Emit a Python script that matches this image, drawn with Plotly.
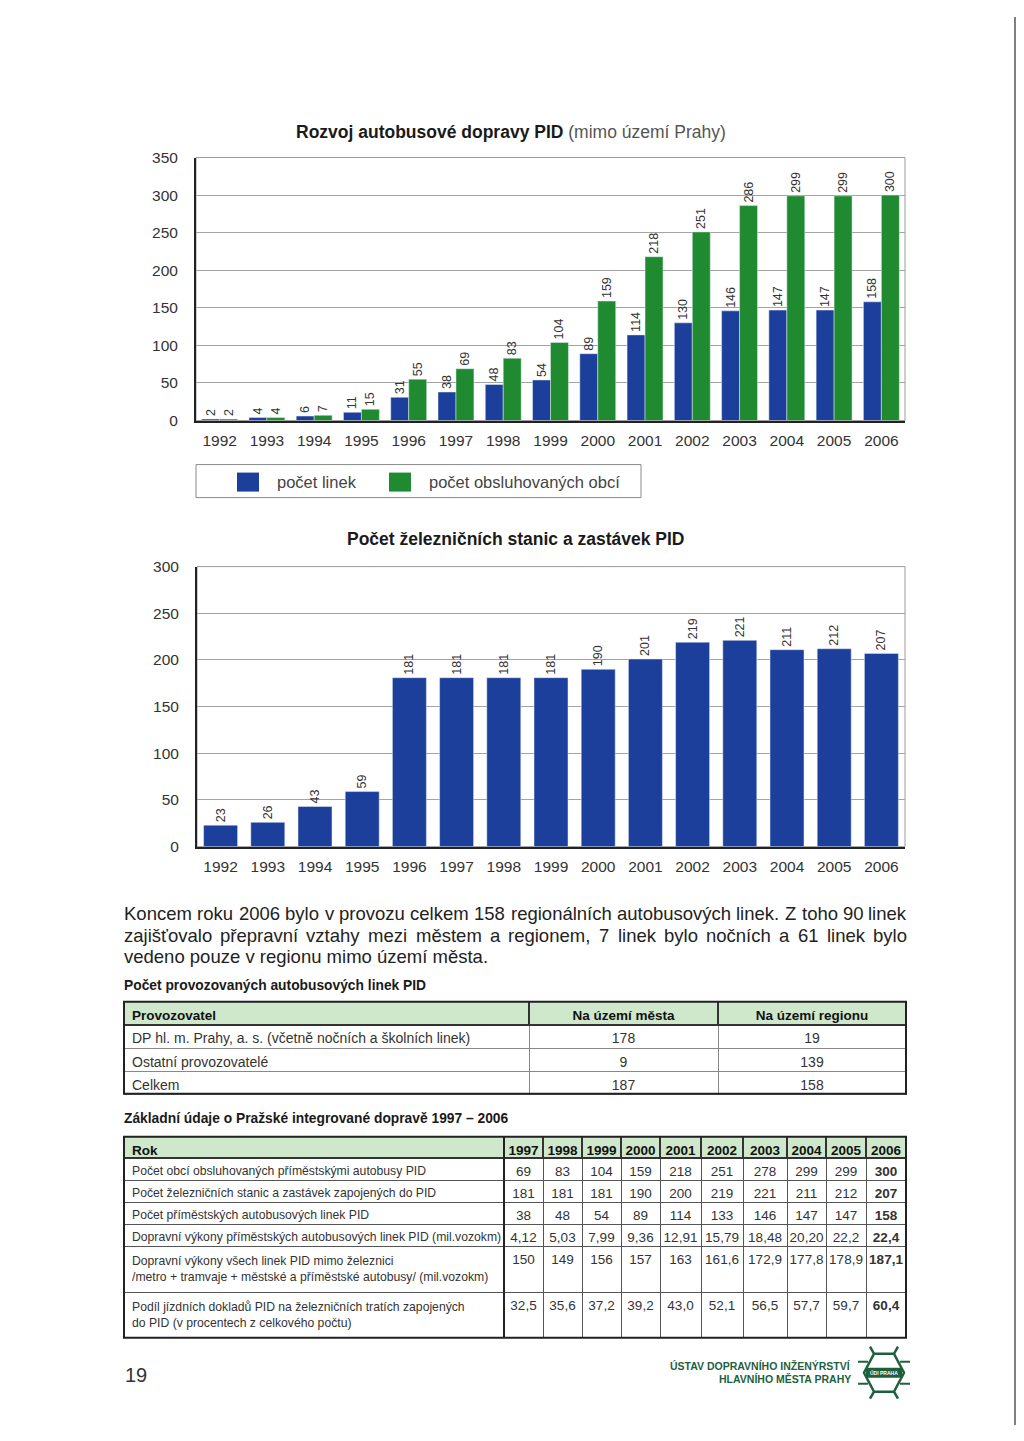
import plotly.graph_objects as go

# ---------------- data ----------------
years = ['1992', '1993', '1994', '1995', '1996', '1997', '1998', '1999',
         '2000', '2001', '2002', '2003', '2004', '2005', '2006']
bus_lines = [2, 4, 6, 11, 31, 38, 48, 54, 89, 114, 130, 146, 147, 147, 158]
served_municipalities = [2, 4, 7, 15, 55, 69, 83, 104, 159, 218, 251, 286, 299, 299, 300]
rail_stations = [23, 26, 43, 59, 181, 181, 181, 181, 190, 201, 219, 221, 211, 212, 207]

legend_names = ['počet linek', 'počet obsluhovaných obcí']
chart1_title_bold = 'Rozvoj autobusové dopravy PID'
chart1_title_rest = '(mimo území Prahy)'
chart2_title = 'Počet železničních stanic a zastávek PID'

paragraph_lines = [
    'Koncem roku 2006 bylo v provozu celkem 158 regionálních autobusových linek. Z toho 90 linek',
    'zajišťovalo přepravní vztahy mezi městem a regionem, 7 linek bylo nočních a 61 linek bylo',
    'vedeno pouze v regionu mimo území města.',
]

table1_title = 'Počet provozovaných autobusových linek PID'
table1_header = ['Provozovatel', 'Na území města', 'Na území regionu']
table1_operators = ['DP hl. m. Prahy, a. s. (včetně nočních a školních linek)',
                    'Ostatní provozovatelé', 'Celkem']
table1_city = ['178', '9', '187']
table1_region = ['19', '139', '158']

table2_title = 'Základní údaje o Pražské integrované dopravě 1997 – 2006'
table2_years = ['1997', '1998', '1999', '2000', '2001', '2002', '2003', '2004', '2005', '2006']
table2_rows = [
    'Počet obcí obsluhovaných příměstskými autobusy PID',
    'Počet železničních stanic a zastávek zapojených do PID',
    'Počet příměstských autobusových linek PID',
    'Dopravní výkony příměstských autobusových linek PID (mil.vozokm)',
    'Dopravní výkony všech linek PID mimo železnici<br>/metro + tramvaje + městské a příměstské autobusy/ (mil.vozokm)',
    'Podíl jízdních dokladů PID na železničních tratích zapojených<br>do PID (v procentech z celkového počtu)',
]
t2_municipalities = ['69', '83', '104', '159', '218', '251', '278', '299', '299', '300']
t2_stations = ['181', '181', '181', '190', '200', '219', '221', '211', '212', '207']
t2_bus_lines = ['38', '48', '54', '89', '114', '133', '146', '147', '147', '158']
t2_bus_perf = ['4,12', '5,03', '7,99', '9,36', '12,91', '15,79', '18,48', '20,20', '22,2', '22,4']
t2_all_perf = ['150', '149', '156', '157', '163', '161,6', '172,9', '177,8', '178,9', '187,1']
t2_ticket_share = ['32,5', '35,6', '37,2', '39,2', '43,0', '52,1', '56,5', '57,7', '59,7', '60,4']

page_number = '19'
institute_lines = ['ÚSTAV DOPRAVNÍHO INŽENÝRSTVÍ', 'HLAVNÍHO MĚSTA PRAHY']

# ---------------- styles / page geometry ----------------
OFF = 8                      # html body margin
W, H = 1024 - 2 * OFF, 1441 - 2 * OFF
Y0, SY = 16.5, 0.9879        # measured vertical placement of the figure on the page
BLUE = '#1b3f9b'
GREEN = '#1f8a2f'
DARK_GREEN = '#1e5f3e'
HEADER_FILL = '#cfe7cb'
SANS = 'Liberation Sans, Arial, Helvetica'


def px(x):
    return (x - OFF) / W


def py(y):
    return 1 - ((y - Y0) / SY) / H


def hh(h):
    return h / SY


def nb(s):
    return s.replace(' ', '\u00a0')


fig = go.Figure()

# ---------------- chart 1 ----------------
label_font = dict(family=SANS, size=12.5, color='#333')
fig.add_trace(go.Bar(
    x=years, y=bus_lines, name=legend_names[0], marker_color=BLUE,
    text=bus_lines, textposition='outside', textangle=-90,
    outsidetextfont=label_font, constraintext='none', cliponaxis=False,
    showlegend=False, xaxis='x', yaxis='y', hoverinfo='x+y'))
fig.add_trace(go.Bar(
    x=years, y=served_municipalities, name=legend_names[1], marker_color=GREEN,
    text=served_municipalities, textposition='outside', textangle=-90,
    outsidetextfont=label_font, constraintext='none', cliponaxis=False,
    showlegend=False, xaxis='x', yaxis='y', hoverinfo='x+y'))

# ---------------- chart 2 ----------------
fig.add_trace(go.Bar(
    x=years, y=rail_stations, name=chart2_title, marker_color=BLUE, width=0.72,
    text=rail_stations, textposition='outside', textangle=-90,
    outsidetextfont=label_font, constraintext='none', cliponaxis=False,
    showlegend=False, xaxis='x2', yaxis='y2', hoverinfo='x+y'))

axis_font = dict(family=SANS, size=15.5, color='#333')
common_x = dict(type='category', showline=True, linecolor='#222', linewidth=1.5,
                ticks='', tickfont=axis_font, showgrid=False, ticklabelstandoff=5,
                fixedrange=True)
common_y = dict(showline=True, linecolor='#222', linewidth=2, ticks='',
                tickfont=axis_font, showgrid=True, gridcolor='#a3a3a3', gridwidth=1,
                zeroline=False, ticklabelstandoff=13, dtick=50, fixedrange=True)

fig.update_layout(
    xaxis=dict(domain=[px(196), px(905)], anchor='y', **common_x),
    yaxis=dict(domain=[py(420), py(157)], anchor='x', range=[0, 350], **common_y),
    xaxis2=dict(domain=[px(197), px(905)], anchor='y2', **common_x),
    yaxis2=dict(domain=[py(846), py(566)], anchor='x2', range=[0, 300], **common_y),
)

# frames (top/right border of plot areas)
for xr, yr in (('x domain', 'y domain'), ('x2 domain', 'y2 domain')):
    fig.add_shape(type='rect', xref=xr, yref=yr, x0=0, x1=1, y0=0, y1=1,
                  line=dict(color='#9a9a9a', width=1), layer='below')

annotations = []

# titles
annotations.append(dict(
    x=px(511), y=py(131), xref='paper', yref='paper', showarrow=False,
    text=f'<b>{chart1_title_bold}</b> <span style="color:#555">{chart1_title_rest}</span>',
    font=dict(family=SANS, size=17.5, color='#1a1a1a'), xanchor='center', yanchor='middle'))
annotations.append(dict(
    x=px(516), y=py(538), xref='paper', yref='paper', showarrow=False,
    text=f'<b>{chart2_title}</b>',
    font=dict(family=SANS, size=17.5, color='#1a1a1a'), xanchor='center', yanchor='middle'))

# legend box (manual)
fig.add_shape(type='rect', xref='paper', yref='paper', x0=px(196), x1=px(641),
              y0=py(497), y1=py(464), line=dict(color='#8a8a8a', width=1))
legend_items = [(237, 259, 277, BLUE, legend_names[0]), (389, 411, 429, GREEN, legend_names[1])]
for x0, x1, tx, col, name in legend_items:
    fig.add_shape(type='rect', xref='paper', yref='paper', x0=px(x0), x1=px(x1),
                  y0=py(491), y1=py(472), line=dict(width=0), fillcolor=col)
    annotations.append(dict(x=px(tx), y=py(481), xref='paper', yref='paper', showarrow=False,
                            text=name, xanchor='left', yanchor='middle',
                            font=dict(family=SANS, size=16.5, color='#444'),
                            borderpad=0, borderwidth=0))

# ---------------- paragraph (justified) ----------------
CW = {' ': 278, ',': 278, '.': 278, '-': 333, '(': 333, ')': 333, '/': 278,
      'a': 556, 'b': 556, 'c': 500, 'd': 556, 'e': 556, 'f': 278, 'g': 556, 'h': 556,
      'i': 222, 'j': 222, 'k': 500, 'l': 222, 'm': 833, 'n': 556, 'o': 556, 'p': 556,
      'q': 556, 'r': 333, 's': 500, 't': 278, 'u': 556, 'v': 500, 'w': 722, 'x': 500,
      'y': 500, 'z': 500, 'K': 667, 'Z': 611, 'á': 556, 'é': 556, 'ě': 556, 'í': 278,
      'ý': 500, 'ú': 556, 'ů': 556, 'č': 500, 'ř': 333, 'š': 500, 'ž': 500, 'ť': 350}
PFS = 18.5


def text_width(s, size):
    return sum(CW.get(ch, 556) for ch in s) / 1000 * size


P_LEFT, P_RIGHT = 124, 907
p_ys = [913, 934.5, 956]
for i, line in enumerate(paragraph_lines):
    justify = i < len(paragraph_lines) - 1
    if not justify:
        annotations.append(dict(x=px(P_LEFT), y=py(p_ys[i]), xref='paper', yref='paper',
                                showarrow=False, text=line, xanchor='left', yanchor='middle',
                                font=dict(family=SANS, size=PFS, color='#222'),
                                borderpad=0, borderwidth=0))
        continue
    words = line.split(' ')
    total = sum(text_width(w, PFS) for w in words)
    gap = (P_RIGHT - P_LEFT - total) / (len(words) - 1)
    x = P_LEFT
    for j, w in enumerate(words):
        last = j == len(words) - 1
        annotations.append(dict(x=px(P_RIGHT if last else x), y=py(p_ys[i]), xref='paper',
                                yref='paper', showarrow=False, text=w,
                                xanchor='right' if last else 'left', yanchor='middle',
                                font=dict(family=SANS, size=PFS, color='#222'),
                                borderpad=0, borderwidth=0))
        x += text_width(w, PFS) + gap

# ---------------- tables ----------------
annotations.append(dict(x=px(124), y=py(985), xref='paper', yref='paper', showarrow=False,
                        text=f'<b>{table1_title}</b>', xanchor='left', yanchor='middle',
                        font=dict(family=SANS, size=13.8, color='#1a1a1a'),
                        borderpad=0, borderwidth=0))
fig.add_trace(go.Table(
    domain=dict(x=[px(124), px(906)], y=[py(1110), py(1001)]),
    columnwidth=[405, 189, 188],
    header=dict(values=[nb(v) for v in table1_header],
                align=['left', 'center', 'center'],
                fill_color=HEADER_FILL, height=hh(23),
                line=dict(color='#333', width=1.5),
                font=dict(family=SANS, size=13.5, color='#111', weight='bold')),
    cells=dict(values=[[nb(v) for v in table1_operators], table1_city, table1_region],
               align=['left', 'center', 'center'], fill_color='white', height=hh(23),
               line=dict(color='#888', width=1),
               font=dict(family=SANS, size=14, color='#333')),
))
fig.add_shape(type='rect', xref='paper', yref='paper', x0=px(124), x1=px(906),
              y0=py(1093), y1=py(1001), line=dict(color='#222', width=2))

annotations.append(dict(x=px(124), y=py(1118), xref='paper', yref='paper', showarrow=False,
                        text=f'<b>{table2_title}</b>', xanchor='left', yanchor='middle',
                        font=dict(family=SANS, size=13.8, color='#1a1a1a'),
                        borderpad=0, borderwidth=0))

t2_columns = [t2_municipalities, t2_stations, t2_bus_lines, t2_bus_perf, t2_all_perf, t2_ticket_share]
year_columns = [[row[k] for row in t2_columns] for k in range(len(table2_years))]
n_year = len(table2_years)

fig.add_trace(go.Table(
    domain=dict(x=[px(124), px(906)], y=[py(1345), py(1136)]),
    columnwidth=[380, 39, 39, 39, 39, 41, 42, 44, 39, 40, 40],
    header=dict(values=['Rok'] + table2_years,
                align=['left'] + ['center'] * n_year,
                fill_color=HEADER_FILL, height=hh(21),
                line=dict(color='#333', width=1.5),
                font=dict(family=SANS, size=13.5, color='#111', weight='bold')),
    cells=dict(values=[[nb(v) for v in table2_rows]] + year_columns,
               align=['left'] + ['center'] * n_year,
               fill_color='white', height=hh(21.8),
               line=dict(color='#555', width=1),
               font=dict(family=SANS, size=[12.2] + [13.5] * n_year, color='#333',
                         weight=['normal'] * n_year + ['bold'])),
))
# heavier outer frame and label/years divider of table 2
fig.add_shape(type='rect', xref='paper', yref='paper', x0=px(124), x1=px(906),
              y0=py(1337), y1=py(1136), line=dict(color='#222', width=2))
fig.add_shape(type='line', xref='paper', yref='paper', x0=px(504), x1=px(504),
              y0=py(1337), y1=py(1136), line=dict(color='#222', width=2))

# ---------------- footer ----------------
annotations.append(dict(x=px(125), y=py(1374), xref='paper', yref='paper', showarrow=False,
                        text=page_number, xanchor='left', yanchor='middle',
                        font=dict(family=SANS, size=20, color='#333'),
                        borderpad=0, borderwidth=0))
for k, (t, yy) in enumerate(zip(institute_lines, [1365, 1378])):
    annotations.append(dict(x=px(851), y=py(yy), xref='paper', yref='paper', showarrow=False,
                            text=f'<b>{t}</b>', xanchor='right', yanchor='middle',
                            font=dict(family=SANS, size=10.5, color=DARK_GREEN),
                            borderpad=0, borderwidth=0))


# logo (decoration)
def P(x, y):
    return f'{px(x)},{py(y)}'


logo_path = ('M ' + P(870, 1346) + ' L ' + P(874, 1353) + ' L ' + P(864, 1372) + ' L ' +
             P(874, 1391) + ' L ' + P(870, 1398) +
             ' M ' + P(898, 1346) + ' L ' + P(894, 1353) + ' L ' + P(904, 1372) + ' L ' +
             P(894, 1391) + ' L ' + P(898, 1398) +
             ' M ' + P(874, 1353) + ' L ' + P(894, 1353) +
             ' M ' + P(874, 1391) + ' L ' + P(894, 1391))
fig.add_shape(type='path', xref='paper', yref='paper', path=logo_path,
              line=dict(color=DARK_GREEN, width=2.5))
for yy in (1361, 1383):
    fig.add_shape(type='line', xref='paper', yref='paper', x0=px(858), x1=px(868),
                  y0=py(yy), y1=py(yy), line=dict(color=DARK_GREEN, width=2))
    fig.add_shape(type='line', xref='paper', yref='paper', x0=px(900), x1=px(910),
                  y0=py(yy), y1=py(yy), line=dict(color=DARK_GREEN, width=2))
fig.add_shape(type='rect', xref='paper', yref='paper', x0=px(866), x1=px(902),
              y0=py(1377), y1=py(1367), line=dict(width=0), fillcolor=DARK_GREEN)
annotations.append(dict(x=px(884), y=py(1372), xref='paper', yref='paper', showarrow=False,
                        text='<b>ÚDI PRAHA</b>', xanchor='center', yanchor='middle',
                        font=dict(family=SANS, size=5, color='white'),
                        borderpad=0, borderwidth=0))

# page edge (scan border)
fig.add_shape(type='line', xref='paper', yref='paper', x0=px(1015), x1=px(1015),
              y0=0, y1=1, line=dict(color='#555', width=1.5))

fig.update_layout(
    width=W, height=H, margin=dict(l=0, r=0, t=0, b=0, pad=0),
    paper_bgcolor='white', plot_bgcolor='white',
    barmode='group', bargap=0.24, bargroupgap=0,
    showlegend=False, annotations=annotations,
    font=dict(family=SANS, color='#333'),
)

fig.write_html('out.html')
